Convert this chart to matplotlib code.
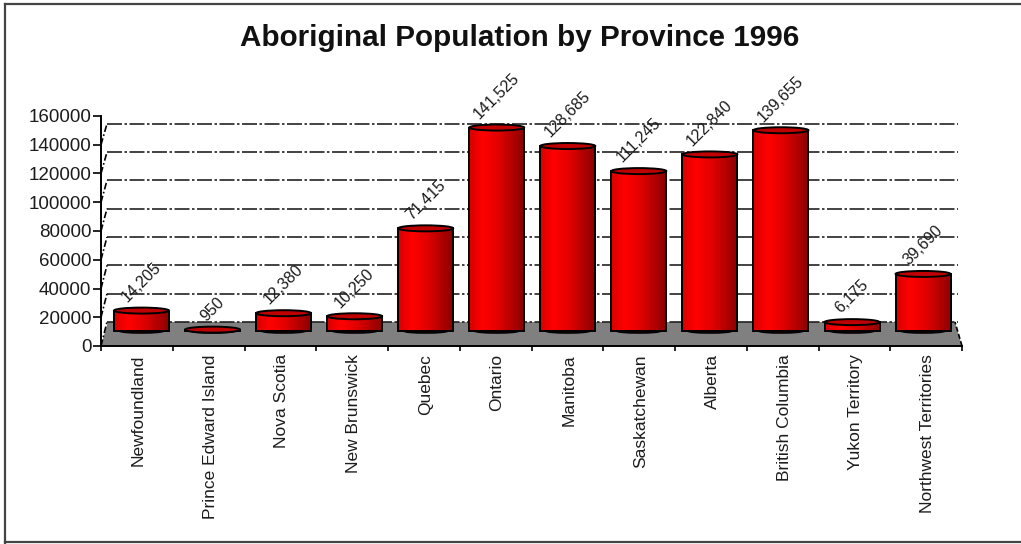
import matplotlib
matplotlib.use("Agg")
import matplotlib.pyplot as plt
import numpy as np
from matplotlib.colors import LinearSegmentedColormap
from matplotlib.lines import Line2D
from matplotlib.patches import Ellipse, Polygon, Rectangle

provinces = ['Newfoundland', 'Prince Edward Island', 'Nova Scotia', 'New Brunswick',
             'Quebec', 'Ontario', 'Manitoba', 'Saskatchewan', 'Alberta',
             'British Columbia', 'Yukon Territory', 'Northwest Territories']
population = [14205, 950, 12380, 10250, 71415, 141525, 128685, 111245, 122840,
              139655, 6175, 39690]
y_ticks = [0, 20000, 40000, 60000, 80000, 100000, 120000, 140000, 160000]
grid_values = [20000, 40000, 60000, 80000, 100000, 120000, 140000]

W, H = 1021, 544
plt.rcParams['font.family'] = ['Liberation Sans', 'DejaVu Sans']
text_col = '#1c1c1c'

fig = plt.figure(figsize=(W / 100, H / 100), dpi=100)
# axes placed so y=0 is at pixel 346, 160000 at pixel 116, x 0..12 spans 101..962
ax = fig.add_axes([101 / W, 1 - 346 / H, (962 - 101) / W, (346 - 116) / H])
ax.patch.set_alpha(0)

px_x = 12 / (962 - 101)
px_y = 160000 / (346 - 116)
depth = 24 * px_y
base = 15 * px_y


def back_y(v):
    # back wall is drawn a little shorter than the front axis
    return v + (24 - 3 * v / 140000) * px_y


# floor
ax.add_patch(Polygon([(0, 0), (12, 0), (12 - 7 * px_x, depth), (7 * px_x, depth)],
                     closed=True, fc='#808080', ec='none', zorder=1))

# back wall grid
for v in grid_values + [0]:
    ax.plot([6 * px_x, 12 - 4 * px_x], [back_y(v), back_y(v)], color='#222222', lw=1.2,
            dashes=(9, 1.5, 1.5, 1.5), zorder=1.5, clip_on=False)
for v in y_ticks[:-1]:
    ax.plot([0, 6 * px_x], [v, back_y(v)], color='black', lw=1.2,
            dashes=(4, 1.5, 1, 1.5), zorder=1.5, clip_on=False)
ax.plot([12, 12 - 7 * px_x], [0, depth], color='black', lw=1.2, dashes=(3, 1.5), zorder=2,
        clip_on=False)

# bars
cmap = LinearSegmentedColormap.from_list('bar', [(0, '#d80000'), (0.25, '#ff0000'),
                                                 (0.55, '#e00000'), (1, '#8c0000')])
gradient = np.linspace(0, 1, 128).reshape(1, -1)
bar_w = 55 * px_x
for i, value in enumerate(population):
    cx = (141.5 - 101 + 71.05 * i) * px_x
    top = base + value
    ax.add_patch(Ellipse((cx, base), bar_w * 0.8, 4 * px_y, fc='#8c0000', ec='black', lw=1.2,
                         zorder=3))
    ax.imshow(gradient, cmap=cmap, aspect='auto', zorder=4,
              extent=(cx - bar_w / 2, cx + bar_w / 2, base, top))
    ax.add_patch(Rectangle((cx - bar_w / 2, base), bar_w, value, fc='none', ec='black',
                           lw=1.4, zorder=5))
    ax.add_patch(Ellipse((cx, top), bar_w, 6 * px_y, fc='#c00000', ec='black', lw=1.4, zorder=6))
    ax.text(cx, top + 6 * px_y, f'{value:,}', rotation=45, ha='center', va='bottom',
            fontsize=11.5, color=text_col, zorder=7)
ax.set_xlim(0, 12)
ax.set_ylim(0, 160000)

for side in ('top', 'right'):
    ax.spines[side].set_visible(False)
ax.spines['left'].set_linewidth(1.4)
ax.spines['bottom'].set_linewidth(1.4)

ax.set_yticks(y_ticks)
ax.tick_params(axis='y', length=6, width=1.2, labelsize=13.5, pad=1, labelcolor=text_col)
ax.set_xticks(range(13))
ax.set_xticks([i + 0.52 for i in range(12)], provinces, minor=True, rotation=90, fontsize=12.5,
              color=text_col)
ax.tick_params(axis='x', which='major', length=3.5, width=1.2, labelbottom=False)
ax.tick_params(axis='x', which='minor', length=0, pad=6)

fig.text(519.5 / W, 1 - 37.5 / H, 'Aboriginal Population by Province 1996', ha='center',
         va='center', fontsize=21.3, fontweight='bold', color='#111111')

# outer frame, open on the right
for xs, ys in [((5, 5), (4, 543)), ((5, W), (4, 4)), ((5, W), (542, 542))]:
    fig.add_artist(Line2D([x / W for x in xs], [1 - y / H for y in ys], color='#444444', lw=1.6,
                          transform=fig.transFigure))

fig.savefig('out.png', dpi=100)
